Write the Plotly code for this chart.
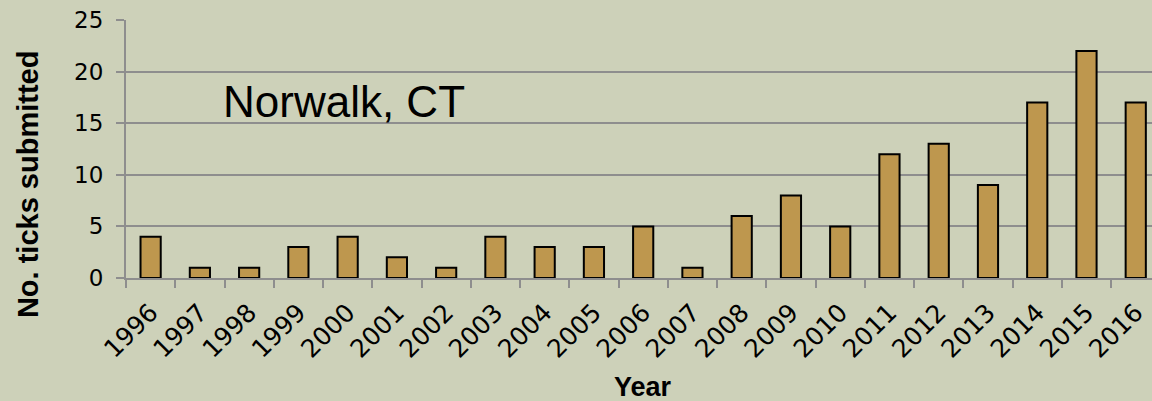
import plotly.graph_objects as go

years = [str(y) for y in range(1996, 2017)]
ticks = [4, 1, 1, 3, 4, 2, 1, 4, 3, 3, 5, 1, 6, 8, 5, 12, 13, 9, 17, 22, 17]
y_ticks = [0, 5, 10, 15, 20, 25]

bg = "#CDD1B9"
grid = "#8E8E8E"

fig = go.Figure(go.Bar(
    x=years, y=ticks, width=0.41,
    marker=dict(color="#BE974E", line=dict(color="#000000", width=2)),
))

fig.update_layout(
    width=1152, height=401,
    paper_bgcolor=bg, plot_bgcolor=bg,
    margin=dict(l=126, r=0, t=20, b=123),
    showlegend=False,
    font=dict(family="DejaVu Sans", color="#000000"),
)
fig.update_xaxes(
    type="category", range=[-0.5, 20.33],
    tickson="boundaries", ticks="outside", ticklen=8, tickwidth=2, tickcolor=grid,
    showline=True, linecolor=grid, linewidth=2,
    tickangle=-45, tickfont=dict(size=25, family="DejaVu Sans"),
    ticklabelstandoff=8,
    showgrid=False,
)
fig.update_yaxes(
    range=[0, 25], tickvals=y_ticks,
    ticks="outside", ticklen=8, tickwidth=2, tickcolor=grid,
    showline=True, linecolor=grid, linewidth=2,
    showgrid=True, gridcolor=grid, gridwidth=2,
    tickfont=dict(size=23, family="DejaVu Sans"),
    ticklabelstandoff=8,
    zeroline=False,
)
fig.add_annotation(
    text="<b>Year</b>", x=0.504, y=-0.4225, xref="paper", yref="paper",
    xanchor="center", yanchor="middle", showarrow=False,
    font=dict(size=27, family="Liberation Sans, Arial"),
)
fig.add_annotation(
    text="<b>No. ticks submitted</b>", x=-0.0955, y=0.364, xref="paper", yref="paper",
    xanchor="center", yanchor="middle", showarrow=False, textangle=-90,
    font=dict(size=29, family="Liberation Sans, Arial"),
)
fig.add_annotation(
    text="Norwalk, CT", x=0.093, y=0.685, xref="paper", yref="paper",
    xanchor="left", yanchor="middle", showarrow=False,
    font=dict(size=44, family="Liberation Sans, Arial"),
)
fig.write_html("out.html", config={"displayModeBar": False},
               post_script="document.body.style.margin='0';document.body.style.overflow='hidden';")
